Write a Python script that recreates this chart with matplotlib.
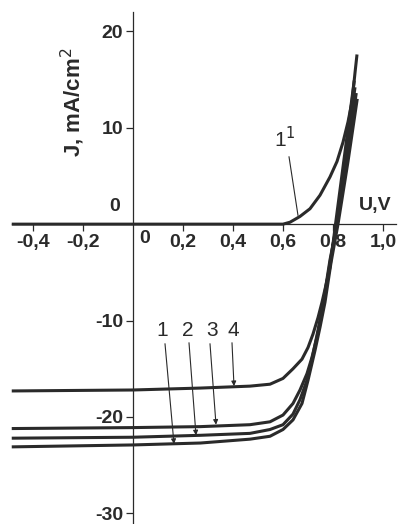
import matplotlib
matplotlib.use("Agg")
import matplotlib.pyplot as plt

# J-U curves (U in V, J in mA/cm2)
u1 = [-0.485, 0.0, 0.27, 0.468, 0.548, 0.60, 0.64, 0.676, 0.70, 0.728, 0.748, 0.768, 0.792, 0.82, 0.86, 0.897]
j1 = [-23.1, -22.9, -22.7, -22.3, -22.0, -21.3, -20.3, -18.6, -16.2, -13.1, -10.7, -8.1, -4.0, 0.0, 6.5, 13.0]
u2 = [-0.485, 0.0, 0.27, 0.468, 0.548, 0.60, 0.64, 0.668, 0.696, 0.72, 0.74, 0.76, 0.788, 0.816, 0.855, 0.893]
j2 = [-22.2, -22.1, -21.9, -21.7, -21.3, -20.8, -19.7, -18.2, -16.2, -13.5, -11.0, -8.3, -3.7, 0.0, 6.8, 13.6]
u3 = [-0.485, 0.0, 0.27, 0.468, 0.548, 0.60, 0.64, 0.668, 0.696, 0.716, 0.736, 0.752, 0.764, 0.788, 0.814, 0.852, 0.888]
j3 = [-21.2, -21.1, -21.0, -20.8, -20.5, -19.8, -18.6, -17.2, -15.5, -13.8, -11.7, -9.7, -7.9, -4.0, 0.0, 7.2, 14.2]
u4 = [-0.485, 0.0, 0.27, 0.468, 0.548, 0.60, 0.64, 0.676, 0.70, 0.72, 0.74, 0.756, 0.788, 0.81, 0.848, 0.885]
j4 = [-17.3, -17.2, -17.0, -16.8, -16.6, -16.0, -15.0, -14.0, -12.8, -11.4, -9.7, -8.1, -4.5, 0.0, 7.5, 14.9]
# dark curve 1'
u1d = [-0.485, 0.0, 0.4, 0.60, 0.628, 0.668, 0.708, 0.748, 0.788, 0.816, 0.84, 0.86, 0.876, 0.888, 0.896]
j1d = [0.0, 0.0, 0.0, 0.0, 0.2, 0.8, 1.6, 3.0, 4.9, 6.5, 8.5, 10.6, 12.7, 15.7, 17.6]

xticks = [-0.4, -0.2, 0.2, 0.4, 0.6, 0.8, 1.0]
xlabels = ["-0,4", "-0,2", "0,2", "0,4", "0,6", "0,8", "1,0"]
yticks = [20, 10, -10, -20, -30]

ink = "#2a2a2a"
plt.rcParams['font.family'] = ['Liberation Sans', 'DejaVu Sans']

fig = plt.figure(figsize=(4.01, 5.24), dpi=100)
ax = fig.add_axes([0, 0, 1, 1])
ax.set_xlim(-0.532, 1.072)
ax.set_ylim(-31.1, 23.25)

for u, j in [(u1, j1), (u2, j2), (u3, j3), (u4, j4), (u1d, j1d)]:
    ax.plot(u, j, color=ink, lw=2.2, solid_capstyle='butt', solid_joinstyle='round')

# axes through the origin
ax.spines['left'].set_position(('data', 0))
ax.spines['bottom'].set_position(('data', 0))
ax.spines['right'].set_visible(False)
ax.spines['top'].set_visible(False)
ax.spines['left'].set_bounds(-31.1, 22.0)
ax.spines['bottom'].set_bounds(-0.485, 1.05)
for s in ['left', 'bottom']:
    ax.spines[s].set_color(ink)
    ax.spines[s].set_linewidth(0.9)

ax.set_xticks(xticks)
ax.set_xticklabels(xlabels)
ax.set_yticks(yticks)
ax.set_yticklabels([str(t) for t in yticks])
ax.tick_params(axis='both', direction='out', length=5, width=0.9, color=ink,
               labelsize=14, labelcolor=ink, pad=2)
for lab in ax.get_xticklabels() + ax.get_yticklabels():
    lab.set_fontweight('bold')

fs = 14
ax.text(-0.075, 1.8, "0", fontsize=fs, fontweight='bold', color=ink, ha='center', va='center')
ax.text(0.045, -1.5, "0", fontsize=fs, fontweight='bold', color=ink, ha='center', va='center')
ax.text(0.968, 1.9, "U,V", fontsize=fs, fontweight='bold', color=ink, ha='center', va='center')
ax.text(-0.24, 12.6, "J, mA/cm$^2$", fontsize=16, fontweight='bold', color=ink,
        ha='center', va='center', rotation=90)

# curve labels with arrows
labels = [("1", 0.116, -11.0, 0.128, -12.4, 0.164, -22.8),
          ("2", 0.22, -11.0, 0.224, -12.3, 0.252, -21.9),
          ("3", 0.316, -11.0, 0.308, -12.4, 0.332, -20.8),
          ("4", 0.40, -11.0, 0.396, -12.3, 0.404, -16.8)]
for txt, tx, ty, ax0, ay0, ax1, ay1 in labels:
    ax.text(tx, ty, txt, fontsize=15, color=ink, ha='center', va='center')
    ax.annotate("", xy=(ax1, ay1), xytext=(ax0, ay0),
                arrowprops=dict(arrowstyle='-|>', color=ink, lw=0.8,
                                mutation_scale=7, shrinkA=0, shrinkB=0))

ax.text(0.608, 8.9, "1$^1$", fontsize=15, color=ink, ha='center', va='center')
ax.annotate("", xy=(0.66, 0.9), xytext=(0.624, 7.0),
            arrowprops=dict(arrowstyle='-', color=ink, lw=0.8, shrinkA=0, shrinkB=0))

fig.savefig("out.png", dpi=100)
